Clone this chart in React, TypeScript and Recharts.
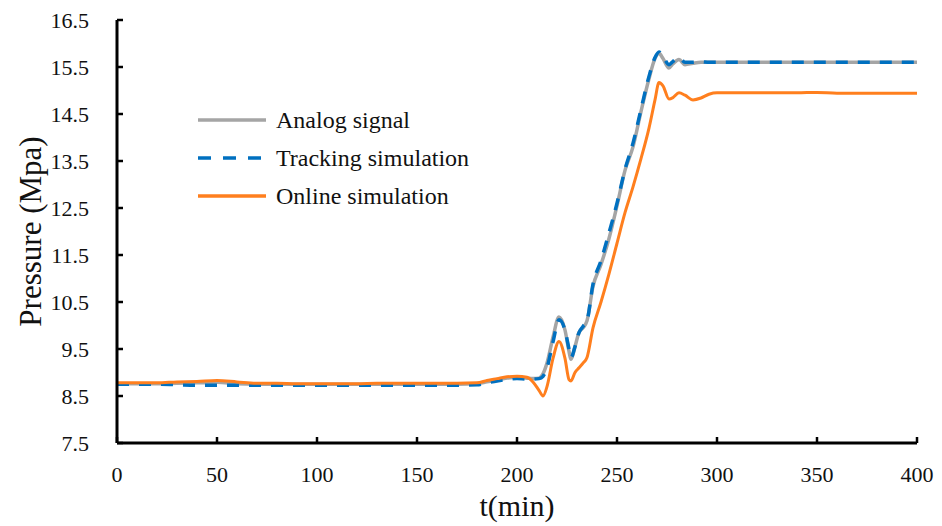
import React from 'react';
import { LineChart, Line, XAxis, YAxis } from 'recharts';

// time in minutes
const times = [
  0, 10, 20, 30, 40, 50, 60, 70, 80, 90, 100, 110, 120, 130, 140, 150, 160, 170, 180,
  185, 190, 195, 200, 205, 208, 211, 213, 215, 218, 221, 224, 226, 227, 229, 231, 233, 235,
  238, 242, 246, 250, 254, 258, 262, 266, 269, 271, 273, 276, 278, 281, 284, 288, 292, 296,
  300, 320, 340, 350, 360, 380, 400,
];

const analogSignal = [
  8.76, 8.76, 8.76, 8.77, 8.78, 8.79, 8.76, 8.75, 8.75, 8.75, 8.75, 8.75, 8.75, 8.75, 8.75, 8.75, 8.75, 8.75, 8.76,
  8.8, 8.84, 8.88, 8.9, 8.88, 8.87, 8.88, 8.97, 9.2, 9.75, 10.18, 9.9, 9.45, 9.28, 9.55, 9.85, 9.95, 10.1,
  10.83, 11.3, 11.85, 12.55, 13.3, 13.8, 14.55, 15.25, 15.68, 15.79, 15.68, 15.48, 15.57, 15.66, 15.55, 15.58, 15.6, 15.6,
  15.6, 15.6, 15.6, 15.6, 15.6, 15.6, 15.6,
];

const trackingSimulation = [
  8.75, 8.75, 8.75, 8.74, 8.73, 8.73, 8.73, 8.73, 8.73, 8.73, 8.73, 8.73, 8.73, 8.73, 8.73, 8.73, 8.73, 8.73, 8.74,
  8.78, 8.82, 8.85, 8.87, 8.86, 8.86, 8.87, 8.92, 9.1, 9.65, 10.12, 9.9, 9.5, 9.32, 9.55, 9.85, 9.98, 10.1,
  10.88, 11.38, 11.97, 12.6, 13.32, 13.88, 14.6, 15.3, 15.7, 15.82, 15.72, 15.55, 15.62, 15.7, 15.6, 15.6, 15.61, 15.6,
  15.6, 15.6, 15.6, 15.6, 15.6, 15.6, 15.6,
];

const onlineSimulation = [
  8.78, 8.78, 8.78, 8.8, 8.81, 8.83, 8.8, 8.77, 8.77, 8.76, 8.76, 8.76, 8.76, 8.77, 8.77, 8.77, 8.77, 8.77, 8.78,
  8.83, 8.87, 8.91, 8.92, 8.9, 8.8, 8.62, 8.5, 8.7, 9.3, 9.66, 9.3, 8.85, 8.82, 9.0, 9.1, 9.2, 9.32,
  9.95, 10.5, 11.1, 11.75, 12.4, 12.95, 13.55, 14.2, 14.8, 15.17, 15.1, 14.82, 14.85, 14.95, 14.9, 14.8, 14.84, 14.92,
  14.95, 14.95, 14.95, 14.96, 14.94, 14.94, 14.94,
];

const xTicks = [0, 50, 100, 150, 200, 250, 300, 350, 400];
const yTicks = [7.5, 8.5, 9.5, 10.5, 11.5, 12.5, 13.5, 14.5, 15.5, 16.5];

const data = times.map((t, i) => ({
  t,
  analog: analogSignal[i],
  tracking: trackingSimulation[i],
  online: onlineSimulation[i],
}));

const FONT = '"Liberation Serif", "Times New Roman", serif';
const textStyle = { fontFamily: FONT };

const legendItems = [
  { name: 'Analog signal', color: '#A5A5A5', dash: undefined },
  { name: 'Tracking simulation', color: '#0070C0', dash: '13 12' },
  { name: 'Online simulation', color: '#FF7F1E', dash: undefined },
];

// tick text drawn by hand so the serif font sticks
const XTick = ({ x, y, payload }: any) => (
  <text x={x} y={y} dy="0.71em" textAnchor="middle" fontSize={22} fill="#111" style={textStyle}>
    {payload.value}
  </text>
);

const YTick = ({ x, y, payload }: any) => (
  <text x={x} y={y} dy="0.355em" textAnchor="end" fontSize={22} fill="#111" style={textStyle}>
    {Number(payload.value).toFixed(1)}
  </text>
);

// legend sits inside the plot, drawn as an overlay so it doesn't eat chart space
const ChartLegend = () => (
  <div style={{ position: 'absolute', left: 196, top: 101, fontSize: 24, color: '#111' }}>
    {legendItems.map((item) => (
      <div key={item.name} style={{ display: 'flex', alignItems: 'center', height: 38 }}>
        <svg width={72} height={10} style={{ marginRight: 8 }}>
          <line x1={2} y1={5} x2={70} y2={5} stroke={item.color} strokeWidth={3.5} strokeDasharray={item.dash} />
        </svg>
        <span>{item.name}</span>
      </div>
    ))}
  </div>
);

export default function App() {
  return (
    <div style={{ position: 'absolute', left: 0, top: 0, width: 942, height: 526, background: '#fff', fontFamily: FONT }}>
      <LineChart
        width={942}
        height={526}
        data={data}
        margin={{ top: 20, right: 25, bottom: 43, left: 57 }}
        style={{ fontFamily: FONT }}
      >
        <XAxis
          dataKey="t"
          type="number"
          domain={[0, 400]}
          ticks={xTicks}
          height={40}
          axisLine={{ stroke: '#000', strokeWidth: 3 }}
          tickLine={{ stroke: '#000', strokeWidth: 2.5 }}
          tickSize={-6}
          tickMargin={29}
          tick={<XTick />}
          label={{
            value: 't(min)',
            position: 'insideBottom',
            offset: -33,
            fontSize: 30,
            fill: '#111',
            style: textStyle,
          }}
        />
        <XAxis
          xAxisId="top"
          orientation="top"
          dataKey="t"
          type="number"
          domain={[0, 400]}
          height={0}
          tick={false}
          tickLine={false}
          axisLine={{ stroke: '#000', strokeWidth: 3 }}
        />
        <YAxis
          type="number"
          domain={[7.5, 16.5]}
          ticks={yTicks}
          width={60}
          axisLine={{ stroke: '#000', strokeWidth: 3 }}
          tickLine={{ stroke: '#000', strokeWidth: 2.5 }}
          tickSize={-6}
          tickMargin={34}
          tick={<YTick />}
          label={{
            value: 'Pressure (Mpa)',
            angle: -90,
            position: 'insideLeft',
            offset: -27,
            style: { textAnchor: 'middle', fontFamily: FONT },
            fontSize: 31,
            fill: '#111',
          }}
        />
        <YAxis
          yAxisId="right"
          orientation="right"
          type="number"
          domain={[7.5, 16.5]}
          width={0}
          tick={false}
          tickLine={false}
          axisLine={{ stroke: '#000', strokeWidth: 3 }}
        />
        <Line
          type="monotone"
          dataKey="analog"
          name="Analog signal"
          stroke="#A5A5A5"
          strokeWidth={3.5}
          dot={false}
          isAnimationActive={false}
        />
        <Line
          type="monotone"
          dataKey="tracking"
          name="Tracking simulation"
          stroke="#0070C0"
          strokeWidth={3.5}
          strokeDasharray="12 10"
          dot={false}
          isAnimationActive={false}
        />
        <Line
          type="monotone"
          dataKey="online"
          name="Online simulation"
          stroke="#FF7F1E"
          strokeWidth={3}
          dot={false}
          isAnimationActive={false}
        />
      </LineChart>
      <ChartLegend />
    </div>
  );
}
